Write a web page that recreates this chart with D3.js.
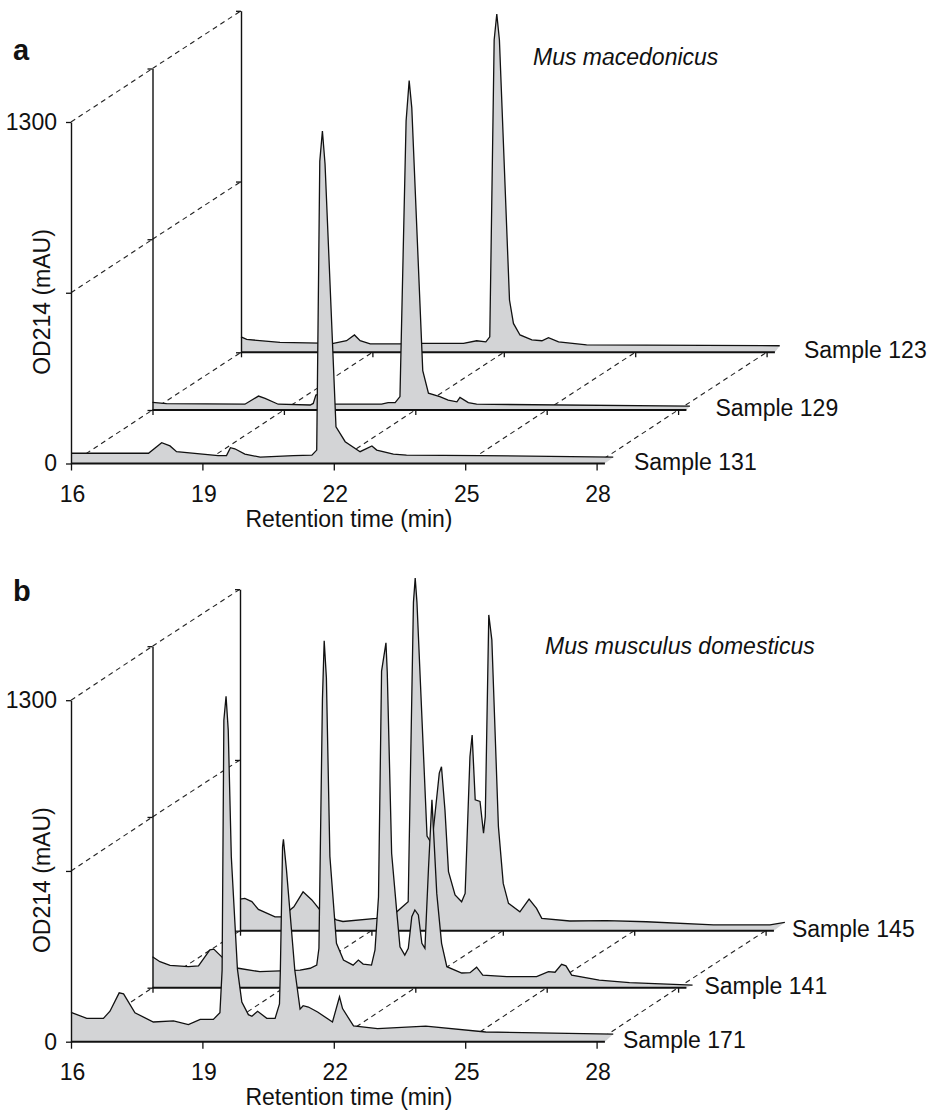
<!DOCTYPE html>
<html>
<head>
<meta charset="utf-8">
<script src="https://cdn.jsdelivr.net/npm/d3@7"></script>
<style>
body { margin: 0; background: #fff; }
svg text { font-family: "Liberation Sans", Arial, Helvetica, sans-serif; fill: #111; }
</style>
</head>
<body>
<div id="chart"></div>
<script>
// tick values
var timeTicks = [16, 19, 22, 25, 28];
var odTicks = [0, 650, 1300];

// panel a : Mus macedonicus  [retention time (min), OD214 (mAU)]
var s131 = [[16,39],[17.77,39],[18.07,79],[18.26,67],[18.41,45],[19.36,30],[19.55,30],[19.64,60],[19.74,56],[19.97,36],
  [20.32,24],[21.08,30],[21.5,32],[21.61,51],[21.68,1150],[21.74,1266],[21.8,1140],[22.05,140],[22.26,83],[22.6,45],
  [22.87,67],[22.98,51],[23.36,36],[23.66,32],[25.34,30],[28.38,24]];
var s129 = [[16,29],[16.32,24],[18.11,22],[18.42,53],[18.57,44],[18.87,22],[19.6,19],[19.67,25],[19.73,57],[19.8,60],
  [19.95,30],[20.17,22],[21.23,22],[21.38,28],[21.54,28],[21.65,51],[21.79,1100],[21.86,1254],[21.92,1150],[22.17,150],
  [22.3,64],[22.56,51],[22.75,38],[22.95,31],[23.02,48],[23.21,28],[23.4,22],[28.27,15]];
var s123 = [[16,59],[16.13,49],[16.89,38],[18.11,34],[18.41,44],[18.59,66],[18.72,44],[18.95,32],[19.63,32],[20.16,34],
  [21.08,34],[21.38,44],[21.59,40],[21.68,59],[21.78,1189],[21.84,1288],[21.9,1189],[22.13,199],[22.22,110],[22.37,66],
  [22.64,47],[22.87,44],[23.02,56],[23.25,40],[23.89,28],[28.3,25]];

// panel b : Mus musculus domesticus
var s171 = [[16,112],[16.36,89],[16.74,89],[16.89,116],[17.1,186],[17.2,182],[17.46,110],[17.88,75],[18.34,79],[18.68,65],
  [18.95,85],[19.25,85],[19.4,110],[19.45,272],[19.49,1224],[19.54,1315],[19.59,1186],[19.66,704],[19.8,276],[19.9,151],
  [20.05,103],[20.13,97],[20.26,116],[20.47,89],[20.66,89],[20.76,144],[20.78,272],[20.83,741],[20.85,770],[20.92,653],
  [21.11,272],[21.23,124],[21.3,137],[21.42,132],[21.63,113],[21.97,75],[22.13,171],[22.2,126],[22.45,60],[23.0,50],
  [24.1,59],[25.47,37],[28.38,29]];
var s141 = [[16,118],[16.17,99],[16.4,85],[16.82,80],[17.05,83],[17.31,144],[17.4,147],[17.54,124],[17.75,90],[17.96,74],
  [18.45,61],[18.91,64],[19.37,67],[19.6,74],[19.75,86],[19.8,150],[19.88,1100],[19.92,1321],[19.97,1180],[20.05,500],
  [20.2,169],[20.36,105],[20.58,86],[20.7,105],[20.81,90],[21.0,86],[21.08,144],[21.16,346],[21.23,1205],[21.33,1313],
  [21.36,1200],[21.46,511],[21.58,283],[21.65,156],[21.76,124],[21.84,150],[21.92,270],[21.99,296],[22.07,277],[22.15,169],
  [22.22,150],[22.3,450],[22.38,715],[22.49,359],[22.6,169],[22.72,80],[23.06,56],[23.25,57],[23.4,78],[23.54,48],
  [24.09,42],[24.77,42],[25.04,61],[25.19,59],[25.34,89],[25.44,83],[25.57,48],[26.2,29],[26.89,19],[28.33,10]];
var s145 = [[16,120],[16.11,123],[16.27,111],[16.42,81],[16.8,53],[16.95,53],[17.23,91],[17.44,148],[17.64,117],[17.83,78],
  [18.2,41],[18.35,35],[19.11,47],[19.54,66],[19.84,110],[19.96,1250],[20.0,1342],[20.04,1250],[20.27,360],[20.38,330],
  [20.55,600],[20.6,624],[20.68,458],[20.76,225],[20.91,136],[21.06,110],[21.14,142],[21.25,662],[21.3,745],[21.37,498],
  [21.48,492],[21.56,371],[21.6,434],[21.68,1202],[21.75,1107],[21.9,396],[22.01,180],[22.13,104],[22.39,72],[22.6,120],
  [22.77,85],[22.89,47],[23.53,37],[24.37,38],[25.28,34],[26.81,22],[28.1,22],[28.44,32]];

var namesA = ["Sample 131", "Sample 129", "Sample 123"];
var namesB = ["Sample 171", "Sample 141", "Sample 145"];

var width = 935, height = 1110;
var axisEnd = 28.19;

var x = d3.scaleLinear().domain([16, 28]).range([0, 525.6]);
var y = d3.scaleLinear().domain([0, 1300]).range([0, -341.5]);
var line = d3.line();

var svg = d3.select("#chart").append("svg")
    .attr("width", width).attr("height", height);

var panels = [
  { letter: "a", letterY: 60, species: "Mus macedonicus", spX: 533, spY: 65, gap: 29,
    names: namesA, traces: [s131, s129, s123],
    origins: [[71, 463.5], [152.5, 410], [241, 352.3]] },
  { letter: "b", letterY: 601, species: "Mus musculus domesticus", spX: 545, spY: 654, gap: 18,
    names: namesB, traces: [s171, s141, s145],
    origins: [[71, 1041.7], [152.5, 987.7], [240, 930.7]] }
];

function drawDashes(g, near, far) {
  var segs = [];
  timeTicks.forEach(function (t) {
    segs.push([[near[0] + x(t), near[1]], [far[0] + x(t), far[1]]]);
  });
  [650, 1300].forEach(function (v) {
    segs.push([[near[0], near[1] + y(v)], [far[0], far[1] + y(v)]]);
  });
  g.selectAll(null).data(segs).enter().append("path")
    .attr("d", function (d) { return line(d); })
    .attr("fill", "none").attr("stroke", "#222")
    .attr("stroke-width", 1.1).attr("stroke-dasharray", "5,4");
}

function drawSeries(g, trace, origin, front, name, gap) {
  var sg = g.append("g").attr("transform", "translate(" + origin[0] + "," + origin[1] + ")");
  var pts = trace.map(function (d) { return [x(d[0]), y(d[1])]; });

  sg.append("path")
    .attr("d", line(pts.concat([[x(axisEnd), 0], [0, 0]])) + "Z")
    .attr("fill", "#d3d4d6").attr("stroke", "none");
  sg.append("path")
    .attr("d", line(pts))
    .attr("fill", "none").attr("stroke", "#111")
    .attr("stroke-width", 1.3).attr("stroke-linejoin", "miter");

  // time axis
  var xa = sg.append("g")
    .call(d3.axisBottom(x).tickValues(timeTicks).tickSize(front ? 7 : 5).tickSizeOuter(0)
      .tickPadding(15).tickFormat(front ? d3.format("d") : function () { return ""; }));
  xa.select(".domain").remove();
  xa.selectAll(".tick line").attr("stroke", "#111").attr("stroke-width", 1.3);
  xa.selectAll(".tick text").attr("font-size", 23).attr("font-family", null).attr("dx", 1);
  sg.append("line")
    .attr("x1", 0).attr("x2", x(axisEnd)).attr("y1", 0).attr("y2", 0)
    .attr("stroke", "#111").attr("stroke-width", 2);

  // OD axis
  var ya = sg.append("g")
    .call(d3.axisLeft(y).tickValues(odTicks).tickSize(5).tickSizeOuter(0).tickPadding(9)
      .tickFormat(function (d) { return front && d !== 650 ? d : ""; }));
  ya.select(".domain").attr("stroke", "#111").attr("stroke-width", 1.4);
  ya.selectAll(".tick line").attr("stroke", "#111").attr("stroke-width", 1.3);
  ya.selectAll(".tick text").attr("font-size", 23).attr("font-family", null);

  sg.append("text")
    .attr("x", x(axisEnd) + gap).attr("y", 6)
    .attr("font-size", 23).text(name);
}

panels.forEach(function (p) {
  var g = svg.append("g");
  var o = p.origins;

  drawSeries(g, p.traces[2], o[2], false, p.names[2], p.gap);
  drawDashes(g, o[1], o[2]);
  drawSeries(g, p.traces[1], o[1], false, p.names[1], p.gap);
  drawDashes(g, o[0], o[1]);
  drawSeries(g, p.traces[0], o[0], true, p.names[0], p.gap);

  g.append("text")
    .attr("x", 13).attr("y", p.letterY)
    .attr("font-size", 29).attr("font-weight", "bold").text(p.letter);

  g.append("text")
    .attr("x", p.spX).attr("y", p.spY)
    .attr("font-size", 23).attr("font-style", "italic").text(p.species);

  g.append("text")
    .attr("transform", "translate(50," + (o[0][1] - 161.5) + ")rotate(-90)")
    .attr("text-anchor", "middle").attr("font-size", 23).text("OD214 (mAU)");

  g.append("text")
    .attr("x", 349).attr("y", o[0][1] + 63.5)
    .attr("text-anchor", "middle").attr("font-size", 23).text("Retention time (min)");
});
</script>
</body>
</html>
